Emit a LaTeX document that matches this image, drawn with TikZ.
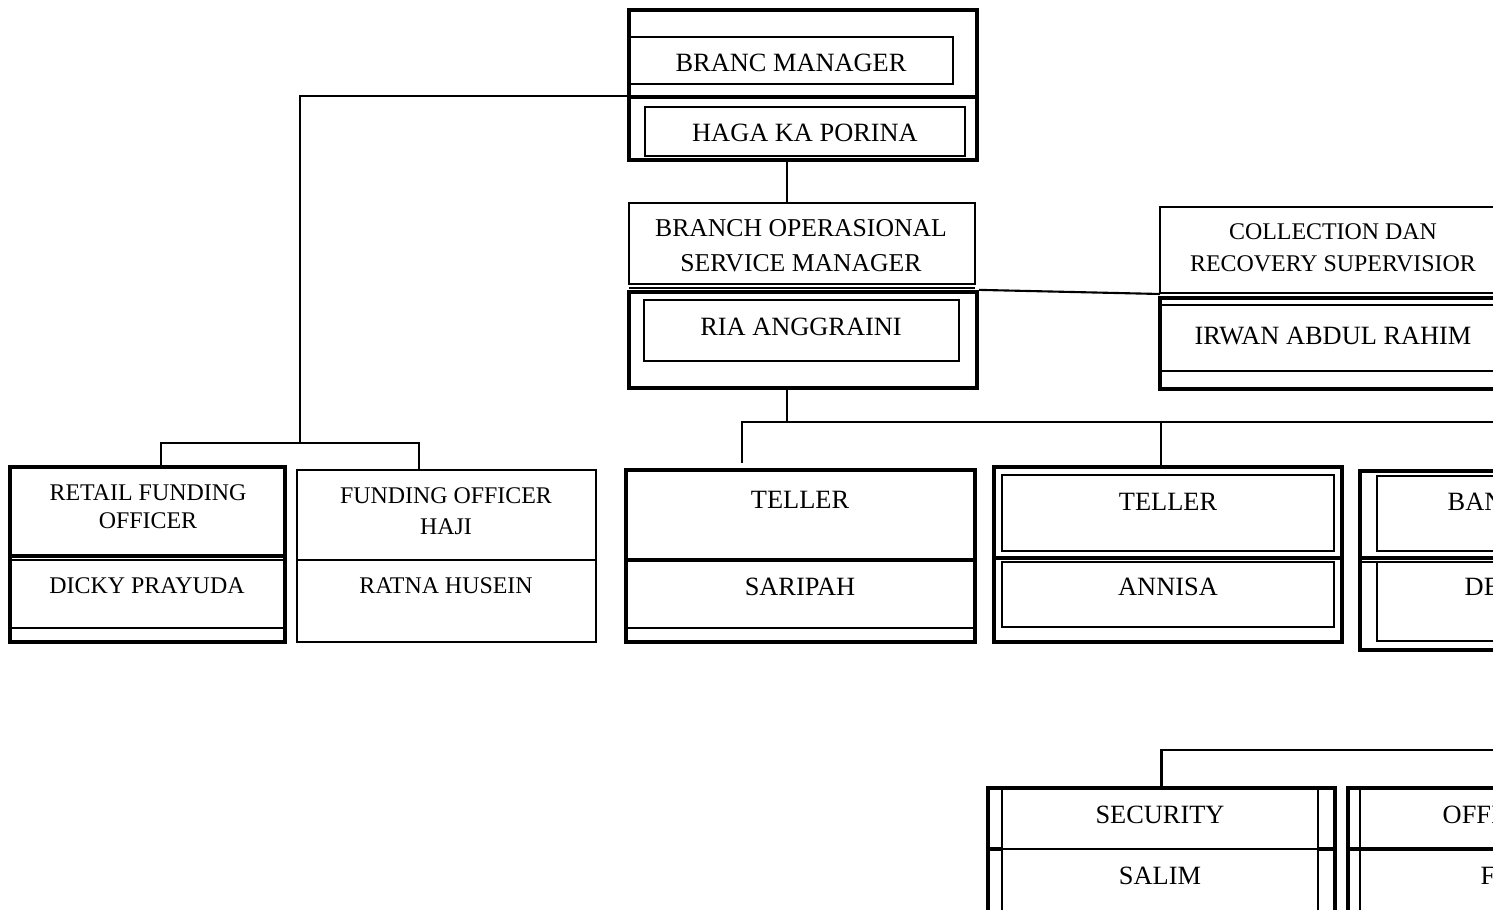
\documentclass[tikz,border=0pt]{standalone}
\usepackage{fontspec}
\setmainfont{Liberation Serif}
\usetikzlibrary{fit}

\tikzset{
  thickbox/.style={draw,line width=1.2pt,inner sep=0pt},
  midbox/.style={draw,line width=0.8pt,inner sep=0pt},
  thinbox/.style={draw,line width=0.45pt,inner sep=0pt},
  bigtext/.style={font=\fontsize{7.5}{9}\selectfont,inner sep=0pt,align=center},
  smalltext/.style={font=\fontsize{6.8}{8.8}\selectfont,inner sep=0pt,align=center},
  link/.style={line width=0.6pt},
  thinline/.style={line width=0.45pt},
  thickline/.style={line width=1.2pt}
}

\begin{document}
\begin{tikzpicture}[x=0.01cm,y=-0.01cm]
  \useasboundingbox (0,0) rectangle (1493,910);
  \clip (0,0) rectangle (1493,910);

  % branch manager
  \node[thickbox,fit={(629,10) (977,160)}] (bm) {};
  \node[thinbox,fit={(630,37) (953,84)}] (bmtitle) {};
  \node[thinbox,fit={(645,107) (965,156)}] (bmname) {};
  \draw[thickline] (629,97) -- (977,97);
  \node[bigtext] (bmt) at (791,63) {BRANC MANAGER};
  \node[bigtext] (bmn) at (805,133) {HAGA KA PORINA};

  % branch operasional service manager
  \node[midbox,fit={(629,203) (975,284)}] (bosm) {};
  \draw[thinline] (629,288) -- (975,288);
  \node[thickbox,fit={(629,292) (977,388)}] (bosmlow) {};
  \node[thinbox,fit={(644,300) (959,361)}] (bosmname) {};
  \node[bigtext,font=\fontsize{7.3}{10}\selectfont] (bosmt) at (801,246) {BRANCH OPERASIONAL\\SERVICE MANAGER};
  \node[bigtext] (bosmn) at (801,327) {RIA ANGGRAINI};

  % collection dan recovery
  \node[midbox,fit={(1160,207) (1510,293)}] (crs) {};
  \node[thickbox,fit={(1160,298) (1510,389)}] (crslow) {};
  \draw[thinline] (1160,305) -- (1510,305);
  \draw[thinline] (1160,371) -- (1510,371);
  \node[smalltext,font=\fontsize{6.8}{9.1}\selectfont] (crst) at (1333,248) {COLLECTION DAN\\RECOVERY SUPERVISIOR};
  \node[bigtext] (crsn) at (1333,336) {IRWAN ABDUL RAHIM};

  % retail funding officer
  \node[thickbox,fit={(10,467) (285,642)}] (rfo) {};
  \draw[line width=0.9pt] (10,556) -- (285,556);
  \draw[thinline] (10,560) -- (285,560);
  \draw[thinline] (10,628) -- (285,628);
  \node[smalltext,font=\fontsize{6.8}{8}\selectfont] (rfot) at (148,507) {RETAIL FUNDING\\OFFICER};
  \node[smalltext] (rfon) at (147,586) {DICKY PRAYUDA};

  % funding officer haji
  \node[midbox,fit={(297,470) (596,642)}] (foh) {};
  \draw[line width=0.8pt] (297,560) -- (596,560);
  \node[smalltext] (foht) at (446,511) {FUNDING OFFICER\\HAJI};
  \node[smalltext] (fohn) at (446,586) {RATNA HUSEIN};

  % teller 1
  \node[thickbox,fit={(626,470) (975,642)}] (tla) {};
  \draw[line width=0.9pt] (626,560) -- (975,560);
  \draw[thinline] (626,628) -- (975,628);
  \node[bigtext] (tlat) at (800,500) {TELLER};
  \node[bigtext] (tlan) at (800,587) {SARIPAH};

  % teller 2
  \node[thickbox,fit={(994,467) (1342,642)}] (tlb) {};
  \node[thinbox,fit={(1002,475) (1334,551)}] (tlbtitle) {};
  \draw[thickline] (994,558) -- (1342,558);
  \node[thinbox,fit={(1002,562) (1334,627)}] (tlbname) {};
  \node[bigtext] (tlbt) at (1168,502) {TELLER};
  \node[bigtext] (tlbn) at (1168,587) {ANNISA};

  % third box, cut at the edge
  \node[thickbox,fit={(1360,471) (1710,650)}] (bsv) {};
  \node[thinbox,fit={(1377,476) (1700,551)}] (bsvtitle) {};
  \draw[thickline] (1360,558) -- (1710,558);
  \node[thinbox,fit={(1377,562) (1700,641)}] (bsvname) {};
  \draw[thinline] (1360,562) -- (1377,562);
  \node[bigtext,anchor=west] (bsvt) at (1447,502) {BAN};
  \node[bigtext,anchor=west] (bsvn) at (1464,587) {DE};

  % security
  \node[thickbox,fit={(988,788) (1335,930)}] (sec) {};
  \draw[thinline] (1002,788) -- (1002,930);
  \draw[thinline] (1318,788) -- (1318,930);
  \draw[thinline] (988,849) -- (1335,849);
  \draw[thickline] (988,849) -- (1002,849);
  \draw[thickline] (1318,849) -- (1335,849);
  \node[bigtext] (sect) at (1160,815) {SECURITY};
  \node[bigtext] (secn) at (1160,876) {SALIM};

  % office box, cut at the edge
  \node[thickbox,fit={(1348,788) (1700,930)}] (ofb) {};
  \draw[thinline] (1360,788) -- (1360,930);
  \draw[thickline] (1348,849) -- (1700,849);
  \node[bigtext,anchor=west] (ofbt) at (1442,815) {OFFI};
  \node[bigtext,anchor=west] (ofbn) at (1480,876) {F};

  % connectors
  \coordinate (bmjoin) at (629,96);
  \coordinate (fundfork) at (300,443);
  \coordinate (rfodrop) at (161,467);
  \coordinate (fohdrop) at (419,470);
  \draw[link] (bmjoin) -| (fundfork);
  \draw[link] (rfodrop) |- (fundfork) -| (fohdrop);

  \coordinate (bmdrop) at (787,160);
  \draw[link] (bmdrop) -- (bmdrop |- bosm.north);
  \coordinate (crsjoin) at (1160,294);
  \draw[link] (bosmlow.north east) -- (crsjoin);

  \coordinate (bosmdrop) at (787,388);
  \coordinate (tellfork) at (787,422);
  \coordinate (tladrop) at (742,463);
  \coordinate (tlbdrop) at (1161,465);
  \coordinate (tellend) at (1520,422);
  \draw[link] (bosmdrop) -- (tellfork);
  \draw[link] (tladrop) |- (tellend);
  \draw[link] (tlbdrop) -- (tlbdrop |- tellfork);

  \coordinate (secend) at (1520,750);
  \draw[link] (sec.north) |- (secend);
\end{tikzpicture}
\end{document}
